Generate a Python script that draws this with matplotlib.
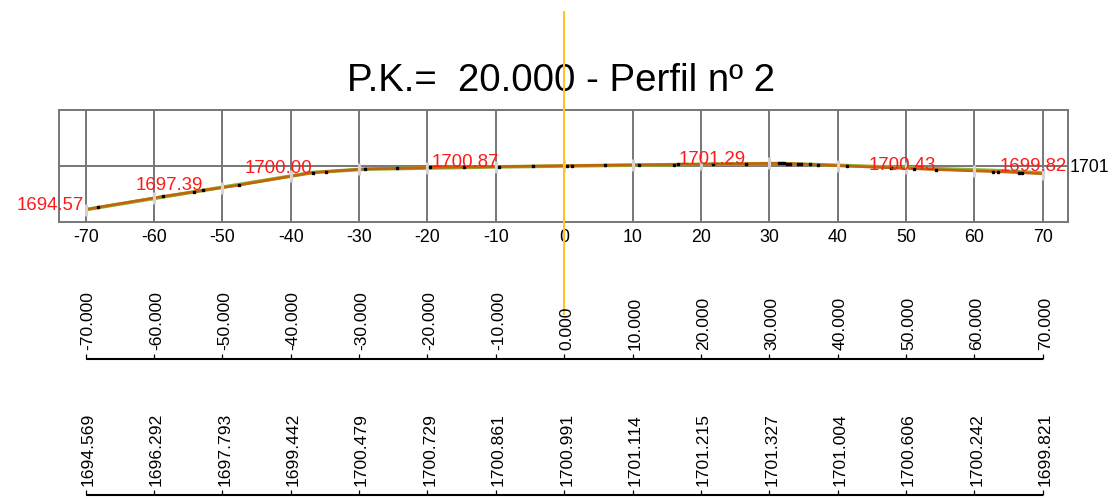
import matplotlib
matplotlib.use('Agg')
import matplotlib.pyplot as plt

plt.rcParams['font.family'] = ['Liberation Sans', 'DejaVu Sans']

title = "P.K.=  20.000 - Perfil nº 2"

# design profile vertices (offset, elevation)
profile_x = [-70, -68.2, -58.7, -54.2, -52.8, -47.6, -36.8, -34.9, -29.1, -24.5,
             -19.6, -14.6, -9.5, -4.6, 0.4, 1.2, 5.9, 11.0, 16.0, 16.7, 21.7,
             26.6, 31.4, 31.8, 32.1, 32.6, 33.1, 34.2, 34.6, 35.9, 37.2, 41.3,
             47.8, 51.2, 54.4, 62.8, 63.5, 66.6, 67.0, 70]
profile_z = [1694.569, 1694.90, 1696.50, 1697.17, 1697.39, 1698.16, 1700.00, 1700.13,
             1700.52, 1700.60, 1700.74, 1700.80, 1700.87, 1700.93, 1701.00, 1701.01,
             1701.07, 1701.12, 1701.17, 1701.18, 1701.23, 1701.29, 1701.34, 1701.34,
             1701.33, 1701.32, 1701.30, 1701.26, 1701.25, 1701.19, 1701.13, 1700.95,
             1700.69, 1700.56, 1700.43, 1700.14, 1700.12, 1700.00, 1699.98, 1699.821]

# terrain line (mostly hidden below the design line)
terrain_x = [-70, -52.8, -36.8, -29.1, -9.5, 0.4, 21.7, 31.4, 41.3, 51.2, 62.8, 70]
terrain_z = [1694.569, 1697.39, 1700.00, 1700.50, 1700.83, 1700.96, 1701.22, 1701.32,
             1701.02, 1700.66, 1700.30, 1699.92]

stations = [-70, -60, -50, -40, -30, -20, -10, 0, 10, 20, 30, 40, 50, 60, 70]
station_z = [1694.569, 1696.292, 1697.793, 1699.442, 1700.479, 1700.729, 1700.861,
             1700.991, 1701.114, 1701.215, 1701.327, 1701.004, 1700.606, 1700.242,
             1699.821]

label_x = [-70, -52.8, -36.8, -9.5, 26.6, 54.4, 70]
label_z = [1694.57, 1697.39, 1700.00, 1700.87, 1701.29, 1700.43, 1699.82]

ygrid = [1701]
axis_x = 0

W, H = 1115, 499
fig = plt.figure(figsize=(W / 100, H / 100), dpi=100)

ax = fig.add_axes([59 / W, 1 - 222 / H, 1009 / W, 112 / H])
ax.set_xlim(-73.9, 73.7)
ax.set_ylim(1692.76, 1709.15)
ax.set_xticks(stations)
ax.set_xticklabels([str(s) for s in stations])
ax.set_yticks(ygrid)
ax.set_yticklabels([str(v) for v in ygrid])
ax.yaxis.tick_right()
ax.tick_params(axis='both', length=0, labelsize=12.8, colors='black')
ax.tick_params(axis='x', pad=5.0)
ax.tick_params(axis='y', pad=1.2)
ax.set_axisbelow(True)
ax.grid(True, color='#767676', lw=1.4)
for sp in ax.spines.values():
    sp.set_color('#767676')
    sp.set_linewidth(1.4)

ax.plot(terrain_x, terrain_z, color='#8db43a', lw=2.6, zorder=3, solid_capstyle='butt')
ax.plot(profile_x, profile_z, color='#c4640a', lw=1.9, zorder=4, solid_capstyle='butt')
ax.plot(stations, station_z, ls='none', marker='|', ms=8, mew=2.2, color='#d4d4d4', zorder=5)
ax.plot(profile_x[1:-1], profile_z[1:-1], ls='none', marker='s', ms=1.7,
        color='black', zorder=6)

for i, (x, z) in enumerate(zip(label_x, label_z)):
    off = (24, 3) if i == len(label_x) - 1 else ((-2, 0) if i == 0 else (0, 0))
    ax.annotate(f"{z:.2f}", (x, z), xytext=off, textcoords='offset pixels',
                ha='right', va='baseline', color='#ff1a1a', fontsize=13.4, zorder=7,
                annotation_clip=False)

fig.text(561 / W, 1 - 91 / H, title, ha='center', va='baseline', fontsize=27.6, color='black')

ov = fig.add_axes([59 / W, 0, 1009 / W, 1], zorder=10)
ov.set_xlim(ax.get_xlim())
ov.set_ylim(H, 0)
ov.axis('off')
ov.patch.set_alpha(0)

for row_y, vals in [(359, stations), (495, station_z)]:
    ov.plot([stations[0], stations[-1]], [row_y, row_y], color='black', lw=1.5,
            solid_capstyle='butt')
    ov.vlines(stations, row_y - 5, row_y, color='black', lw=0.9)
    for s, v in zip(stations, vals):
        ov.annotate(f"{v:.3f}", (s, row_y - 9), xytext=(2.5, 0), textcoords='offset pixels',
                    rotation=90, ha='center', va='bottom', fontsize=12.6, color='black')

ov.plot([axis_x, axis_x], [12, 314], color='#ffc526', lw=1.5)

fig.savefig('out.png', dpi=100, facecolor='white')
